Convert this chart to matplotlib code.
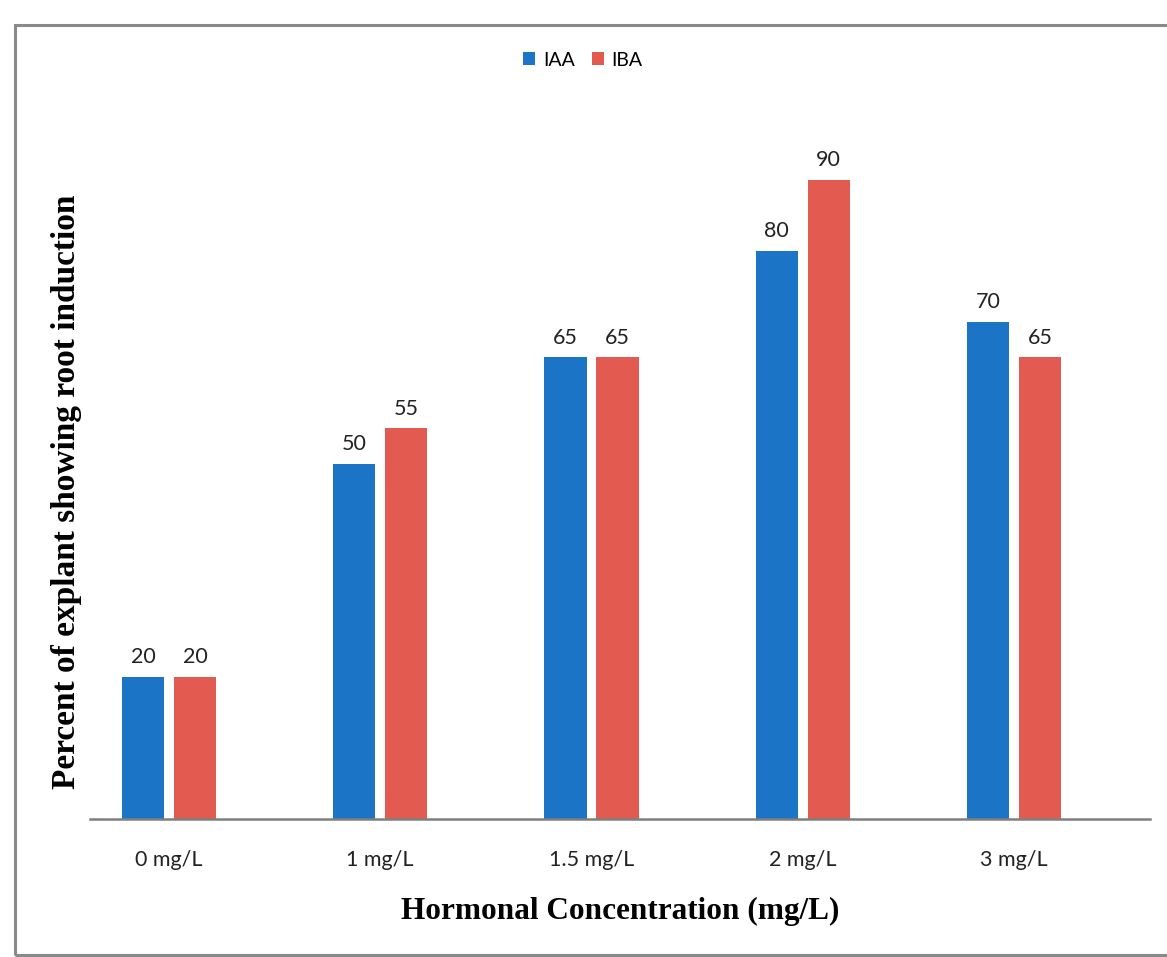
import numpy
import matplotlib
matplotlib.use('Agg')
import matplotlib.pyplot as plt
from matplotlib.patches import Rectangle

# root induction data (% of explants)
concentrations = ['0 mg/L', '1 mg/L', '1.5 mg/L', '2 mg/L', '3 mg/L']
iaa = [20, 50, 65, 80, 70]
iba = [20, 55, 65, 90, 65]

col_iaa = '#1c74c6'
col_iba = '#e35b50'

fig = plt.figure(figsize=(11.67, 9.57), dpi=100)
fig.patch.set_facecolor('white')

# outer frame around the whole chart
frame = Rectangle((15/1167, 2/957), 1.2, 930/957, transform=fig.transFigure,
                  fill=False, edgecolor='#8a8a8a', linewidth=2.2, zorder=0)
fig.patches.append(frame)

ax = fig.add_axes([90/1167, 138/957, 1060/1167, 710/957])
x = numpy.arange(len(concentrations))
width = 0.2
offset = 0.123

b1 = ax.bar(x - offset, iaa, width, color=col_iaa, label='IAA', zorder=2)
b2 = ax.bar(x + offset, iba, width, color=col_iba, label='IBA', zorder=2)

for bars, vals in ((b1, iaa), (b2, iba)):
    for rect, v in zip(bars, vals):
        ax.annotate(f'{v}', (rect.get_x() + rect.get_width()/2, v),
                    xytext=(0, 7), textcoords='offset points', ha='center', va='bottom',
                    fontsize=15.5, family='Lato', color='#222222')

ax.set_xlim(-0.374, 4.644)
ax.set_ylim(0, 100)
ax.set_xticks(x)
ax.set_xticklabels(concentrations, fontsize=15.5, family='Lato', color='#222222')
ax.tick_params(axis='x', length=0, pad=22)
ax.set_yticks([])
for side in ['top', 'right', 'left']:
    ax.spines[side].set_visible(False)
ax.spines['bottom'].set_color('#7f7f7f')
ax.spines['bottom'].set_linewidth(1.8)

ax.set_xlabel('Hormonal Concentration (mg/L)', fontsize=22.5, family='Liberation Serif',
              fontweight='bold', labelpad=20)
fig.text(67/1167, 1 - 492/957, 'Percent of explant showing root induction', rotation=90,
         ha='center', va='center', fontsize=24, family='Liberation Serif', fontweight='bold')

leg = fig.legend(handles=[b1, b2], labels=['IAA', 'IBA'], loc='center',
                 bbox_to_anchor=(583/1167, 1 - 60/957), ncol=2, frameon=False,
                 prop={'family': 'Lato', 'size': 14}, handlelength=0.6, handleheight=0.6,
                 handletextpad=0.4, columnspacing=0.9)

fig.savefig('out.png', dpi=100)
